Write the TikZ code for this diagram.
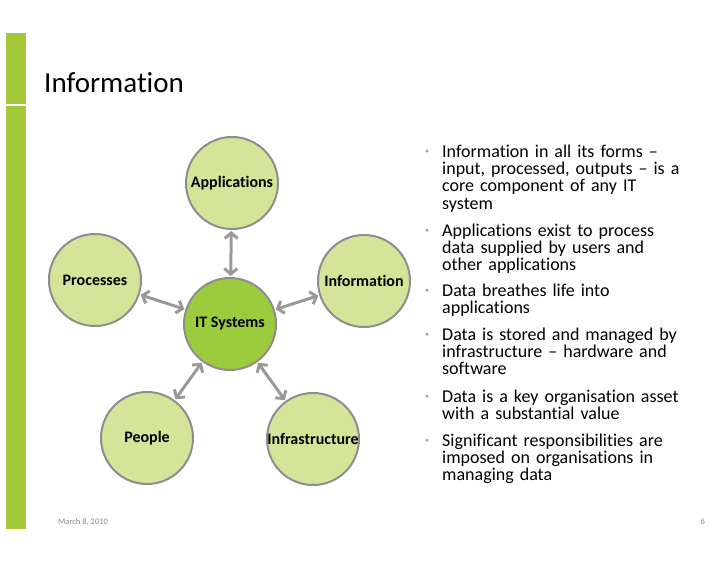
\documentclass[tikz,border=0pt]{standalone}
\usepackage{fontspec}
\setmainfont{Carlito}[Ligatures={NoCommon,NoContextual}]
\usepackage{tikz}
\usetikzlibrary{arrows.meta}
\definecolor{bargreen}{HTML}{A3C83A}
\definecolor{spokefill}{HTML}{D2E598}
\definecolor{hubfill}{HTML}{9CCB3D}
\definecolor{rimgray}{HTML}{8E8E8E}
\definecolor{linkgray}{HTML}{999999}
\definecolor{footgray}{HTML}{8A8A8A}
\newcommand{\bodyfont}{\fontsize{18}{17.4}\selectfont\lineskiplimit=-50pt}

\begin{document}
\begin{tikzpicture}[x=1pt,y=-1pt,
  spoke/.style={circle,draw=rimgray,line width=2pt,fill=spokefill,minimum size=92pt,inner sep=0pt,font=\fontsize{16}{18}\selectfont\bfseries},
  hub/.style={spoke,fill=hubfill},
  link/.style={draw=linkgray,line width=3pt,{Straight Barb[length=5.5pt,width=13pt]}-{Straight Barb[length=5.5pt,width=13pt]},shorten <=1pt,shorten >=1pt},
  point/.style={anchor=base west,inner sep=0pt,text width=250pt,align=left,font=\bodyfont},
  dot/.style={circle,fill=gray!70,inner sep=0pt,minimum size=3.5pt}]
\useasboundingbox (0,0) rectangle (728,563);
\fill[bargreen] (6,33) rectangle (26,104);
\fill[bargreen] (6,106) rectangle (26,529);
\node[anchor=base west,inner sep=0pt,font=\fontsize{29}{34}\selectfont] (title) at (44,92) {Information};

\node[hub] (its) at (230,324) {IT Systems};
\node[spoke] (app) at (232,183) {Applications};
\node[spoke] (proc) at (95,280) {Processes};
\node[spoke] (info) at (364,281) {Information};
\node[spoke] (ppl) at (147,438) {People};
\node[spoke] (infra) at (313,439) {Infrastructure};
\draw[link] (app) -- (its);
\draw[link] (proc) -- (its);
\draw[link] (info) -- (its);
\draw[link] (ppl) -- (its);
\draw[link] (infra) -- (its);

\node[dot] (d1) at (427,151) {};
\node[point] (p1) at (442,157) {Information in all its forms --\\input, processed, outputs -- is a\\core component of any IT\\system};
\node[dot] (d2) at (427,230) {};
\node[point] (p2) at (442,236) {Applications exist to process\\data supplied by users and\\other applications};
\node[dot] (d3) at (427,290) {};
\node[point] (p3) at (442,296) {Data breathes life into\\applications};
\node[dot] (d4) at (427,334) {};
\node[point] (p4) at (442,340) {Data is stored and managed by\\infrastructure -- hardware and\\software};
\node[dot] (d5) at (427,396) {};
\node[point] (p5) at (442,402) {Data is a key organisation asset\\with a substantial value};
\node[dot] (d6) at (427,440) {};
\node[point] (p6) at (442,446) {Significant responsibilities are\\imposed on organisations in\\managing data};

\node[anchor=base west,inner sep=0pt,text=footgray,font=\fontsize{8.5}{10}\selectfont] (date) at (58,524) {March 8, 2010};
\node[anchor=base east,inner sep=0pt,text=footgray,font=\fontsize{8.5}{10}\selectfont] (page) at (705,524) {6};
\end{tikzpicture}
\end{document}
